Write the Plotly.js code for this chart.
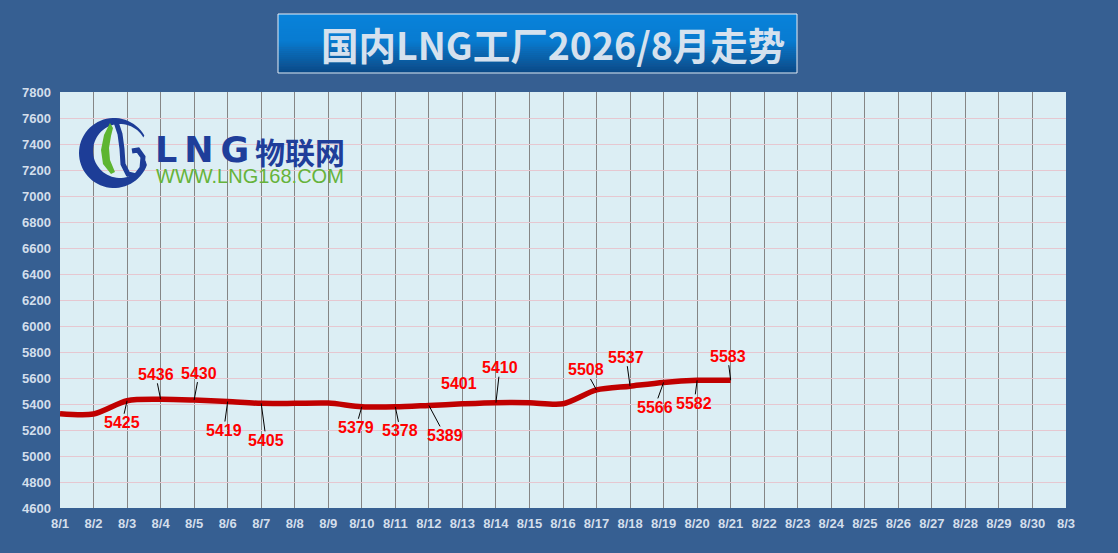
<!DOCTYPE html>
<html>
<head>
<meta charset="utf-8">
<script src="https://cdn.plot.ly/plotly-3.0.1.min.js"></script>
<style>
  html, body { margin: 0; padding: 0; background: #365f92; }
  #chart { width: 1118px; height: 553px; }
</style>
</head>
<body>
<div id="chart"></div>
<script>
// 日期 (8/1 - 8/31)
const dates = ['8/1','8/2','8/3','8/4','8/5','8/6','8/7','8/8','8/9','8/10',
  '8/11','8/12','8/13','8/14','8/15','8/16','8/17','8/18','8/19','8/20',
  '8/21','8/22','8/23','8/24','8/25','8/26','8/27','8/28','8/29','8/30','8/31'];
// 最后一个标签在原图里被截成 "8/3"
const tickLabels = dates.slice(0, 30).concat(['8/3']);

// 价格 (元/吨), 8/1 - 8/21
const prices = [5326, 5323, 5425, 5436, 5430, 5419, 5405, 5405, 5407, 5379,
  5378, 5389, 5401, 5410, 5410, 5402, 5508, 5537, 5566, 5582, 5583];

// 带数值标签的日期
const labelDates = ['8/3','8/4','8/5','8/6','8/7','8/10','8/11','8/12','8/13',
  '8/14','8/17','8/18','8/19','8/20','8/21'];

const yTicks = [];
for (let v = 4600; v <= 7800; v += 200) yTicks.push(v);

// 标签相对数据点的偏移 (px) 和是否画引线
const labelOffsets = {
  '8/3': [-5, 22, 1], '8/4': [-5, -25, 1], '8/5': [5, -27, 1], '8/6': [-4, 29, 1],
  '8/7': [5, 37, 1], '8/10': [-6, 21, 1], '8/11': [5, 24, 1], '8/12': [16, 30, 1],
  '8/13': [-3, -20, 0], '8/14': [4, -35, 1], '8/17': [-11, -20, 1], '8/18': [-4, -29, 1],
  '8/19': [-9, 25, 1], '8/20': [-3, 23, 1], '8/21': [-3, -24, 1]
};

// 像素 -> paper 坐标
const L = 60, R = 1066, T = 92, B = 508;
const px = (x) => (x - L) / (R - L);
const py = (y) => (B - y) / (B - T);

const shapes = [];

// 标题框渐变 (用细条模拟)
const topC = [8, 130, 218], botC = [10, 74, 136];
const boxTop = 14, boxBot = 73, boxL = 278, boxR = 797;
const steps = 30;
for (let i = 0; i < steps; i++) {
  const t = i / (steps - 1);
  const k = t < 0.45 ? t * 0.25 : 0.11 + (t - 0.45) / 0.55 * 0.89;
  const c = topC.map((a, j) => Math.round(a + (botC[j] - a) * k));
  const y0 = boxTop + (boxBot - boxTop) * i / steps;
  const y1 = boxTop + (boxBot - boxTop) * (i + 1) / steps;
  shapes.push({
    type: 'rect', xref: 'paper', yref: 'paper', layer: 'above',
    x0: px(boxL), x1: px(boxR), y0: py(y1) - 0.001, y1: py(y0),
    fillcolor: `rgb(${c.join(',')})`, line: { width: 0 }
  });
}
shapes.push({
  type: 'rect', xref: 'paper', yref: 'paper', layer: 'above',
  x0: px(boxL), x1: px(boxR), y0: py(boxBot), y1: py(boxTop),
  fillcolor: 'rgba(0,0,0,0)', line: { color: '#e8eef6', width: 1 }
});

// logo 图形
function pathFrom(pts, close) {
  return pts.map((p, i) => (i ? 'L' : 'M') + px(p[0]).toFixed(5) + ',' + py(p[1]).toFixed(5)).join(' ') + (close ? ' Z' : '');
}
function arcPts(cx, cy, r, a0, a1, n) {
  const out = [];
  for (let i = 0; i <= n; i++) {
    const a = (a0 + (a1 - a0) * i / n) * Math.PI / 180;
    out.push([cx + r * Math.cos(a), cy + r * Math.sin(a)]);
  }
  return out;
}
const outer = arcPts(114, 153, 35, -30, -340, 60);
const inner = arcPts(120, 151, 27, -340, -30, 60);
shapes.push({
  type: 'path', xref: 'paper', yref: 'paper', layer: 'above',
  path: pathFrom(outer.concat(inner), true),
  fillcolor: '#1d3d97', line: { width: 0 }
});
shapes.push({
  type: 'path', xref: 'paper', yref: 'paper', layer: 'above',
  path: pathFrom([[116, 122], [120, 134], [122, 149], [123, 164], [128, 174], [136, 176],
    [142, 168], [143, 157], [138, 150], [132, 151]], false),
  fillcolor: 'rgba(0,0,0,0)', line: { color: '#1d3d97', width: 5 }
});
shapes.push({
  type: 'path', xref: 'paper', yref: 'paper', layer: 'above',
  path: pathFrom([[110, 123], [104, 135], [101, 150], [103, 164], [111, 174], [115, 172],
    [110, 160], [109, 148], [111, 136], [113, 128]], true),
  fillcolor: '#5db531', line: { width: 0 }
});

const annotations = [];

annotations.push({
  xref: 'paper', yref: 'paper', x: px(553), y: py(44), xanchor: 'center', yanchor: 'middle',
  text: '国内LNG工厂2026/8月走势', showarrow: false,
  font: { family: 'Noto Sans CJK SC', size: 37.5, weight: 'bold', color: '#d5e1ee' }
});
annotations.push({
  xref: 'paper', yref: 'paper', x: px(153), y: py(150), xanchor: 'left', yanchor: 'middle',
  text: 'L\u2009N\u2009G', showarrow: false,
  font: { family: 'DejaVu Sans', size: 35, weight: 'bold', color: '#1f3e9a' }
});
annotations.push({
  xref: 'paper', yref: 'paper', x: px(253), y: py(151), xanchor: 'left', yanchor: 'middle',
  text: '物联网', showarrow: false,
  font: { family: 'Noto Sans CJK SC', size: 30, weight: 'bold', color: '#1f3e9a' }
});
annotations.push({
  xref: 'paper', yref: 'paper', x: px(154), y: py(176), xanchor: 'left', yanchor: 'middle',
  text: 'WWW.LNG168.COM', showarrow: false,
  font: { family: 'Liberation Sans', size: 20, color: '#66b33a' }
});

// 数值标签
labelDates.forEach((d) => {
  const i = dates.indexOf(d);
  const o = labelOffsets[d];
  annotations.push({
    x: d, y: prices[i], xref: 'x', yref: 'y',
    text: String(prices[i]), showarrow: true,
    ax: o[0], ay: o[1], arrowhead: 0, arrowwidth: 1, standoff: 0,
    arrowcolor: o[2] ? '#000000' : 'rgba(0,0,0,0)',
    font: { family: 'Liberation Sans', size: 16, weight: 'bold', color: '#ff0000' },
    borderpad: 0
  });
});

const data = [{
  x: dates.slice(0, prices.length), y: prices,
  type: 'scatter', mode: 'lines',
  line: { color: '#c00000', width: 5.5, shape: 'spline', smoothing: 0.8 },
  hoverinfo: 'x+y'
}];

const layout = {
  width: 1118, height: 553,
  margin: { l: L, r: 1118 - R, t: T, b: 553 - B, pad: 0 },
  paper_bgcolor: '#365f92',
  plot_bgcolor: '#dceef4',
  showlegend: false,
  xaxis: {
    type: 'category', categoryorder: 'array', categoryarray: dates,
    range: [0, 30], tickvals: dates, ticktext: tickLabels,
    showgrid: true, gridcolor: '#858585', gridwidth: 1,
    ticks: '', showline: false, zeroline: false, fixedrange: true,
    ticklabelstandoff: 6,
    tickfont: { family: 'Liberation Sans', size: 13, weight: 'bold', color: '#d3deeb' }
  },
  yaxis: {
    range: [4600, 7800], tickvals: yTicks, ticktext: yTicks.map(String),
    showgrid: true, gridcolor: '#e6c7d0', gridwidth: 1,
    ticks: '', showline: false, zeroline: false, fixedrange: true,
    ticklabelstandoff: 8,
    tickfont: { family: 'Liberation Sans', size: 13, weight: 'bold', color: '#d3deeb' }
  },
  shapes: shapes,
  annotations: annotations
};

Plotly.newPlot('chart', data, layout, { displayModeBar: false, staticPlot: true });
</script>
</body>
</html>
